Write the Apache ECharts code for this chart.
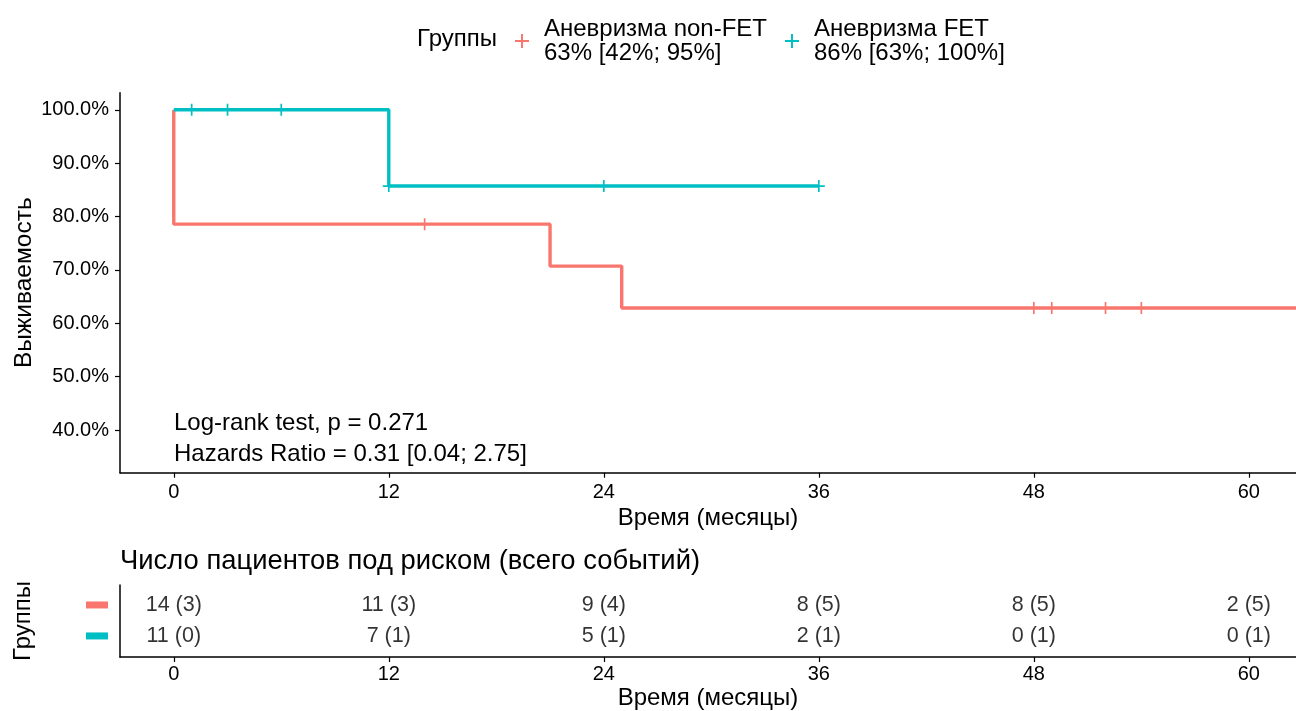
<!DOCTYPE html>
<html>
<head>
<meta charset="utf-8">
<script src="https://cdn.jsdelivr.net/npm/echarts@6/dist/echarts.min.js"></script>
<style>
html,body{margin:0;padding:0;background:#fff;}
#chart{width:1296px;height:711px;}
</style>
</head>
<body>
<div id="chart"></div>
<script>
// ---- data ----
const groupNames = ['Аневризма non-FET', 'Аневризма FET'];
const groupCI = ['63% [42%; 95%]', '86% [63%; 100%]'];
const colors = ['#F8766D', '#00BFC4'];

// Kaplan-Meier step points (time in months, survival %)
const nonFetTime = [0, 0, 21, 25, 64];
const nonFetSurv = [100, 78.57, 70.71, 62.86, 62.86];
const fetTime = [0, 12, 36];
const fetSurv = [100, 85.71, 85.71];

// censor marks
const nonFetCensorTime = [14, 48, 49, 52, 54];
const nonFetCensorSurv = [78.57, 62.86, 62.86, 62.86, 62.86];
const fetCensorTime = [1, 3, 6, 12, 24, 36];
const fetCensorSurv = [100, 100, 100, 85.71, 85.71, 85.71];

// axis ticks
const timeTicks = [0, 12, 24, 36, 48, 60];
const survTicks = [40, 50, 60, 70, 80, 90, 100];

// risk table
const riskTimes = [0, 12, 24, 36, 48, 60];
const nonFetAtRisk = [14, 11, 9, 8, 8, 2];
const nonFetEvents = [3, 3, 4, 5, 5, 5];
const fetAtRisk = [11, 7, 5, 2, 0, 0];
const fetEvents = [0, 1, 1, 1, 1, 1];

const annotations = ['Log-rank test, p = 0.271', 'Hazards Ratio = 0.31 [0.04; 2.75]'];

// ---- chart ----
const FONT = '"Liberation Sans", Arial, sans-serif';
const zip = (a, b) => a.map((v, i) => [v, b[i]]);
const plusPath = 'path://M43,0H57V43H100V57H57V100H43V57H0V43H43Z';

const riskData = [];
riskTimes.forEach((t, i) => {
  riskData.push([t, 1, String(nonFetAtRisk[i]) + ' (' + String(nonFetEvents[i]) + ')']);
  riskData.push([t, 0, String(fetAtRisk[i]) + ' (' + String(fetEvents[i]) + ')']);
});

const xRange = {min: -3, max: 62.63};
const axisLineStyle = {color: '#000', width: 1.5};

const chart = echarts.init(document.getElementById('chart'), null, {renderer: 'canvas'});
chart.setOption({
  backgroundColor: '#fff',
  animation: false,
  textStyle: {fontFamily: FONT},
  legend: groupNames.map((n, i) => ({
    data: [{name: n, icon: plusPath, itemStyle: {color: colors[i]}}],
    left: i === 0 ? 515 : 785,
    top: 17,
    padding: 0,
    itemWidth: 14,
    itemHeight: 14,
    selectedMode: false,
    formatter: name => name + '\n' + groupCI[i],
    textStyle: {fontFamily: FONT, fontSize: 24, lineHeight: 24, color: '#000', padding: [0, 0, 0, 10]}
  })),
  grid: [
    {left: 120, top: 92.7, width: 1176, height: 380, containLabel: false, outerBoundsMode: 'none'},
    {left: 120, top: 585, width: 1176, height: 72, containLabel: false, outerBoundsMode: 'none'}
  ],
  xAxis: [
    {
      gridIndex: 0, type: 'value', min: xRange.min, max: xRange.max,
      name: 'Время (месяцы)', nameLocation: 'middle', nameGap: 34, nameMoveOverlap: false,
      nameTextStyle: {fontFamily: FONT, fontSize: 24, color: '#000'},
      axisLine: {show: true, onZero: false, lineStyle: axisLineStyle},
      axisTick: {show: true, length: 5, customValues: timeTicks, lineStyle: {color: '#000', width: 1.2}},
      axisLabel: {customValues: timeTicks, margin: 10, fontSize: 20, color: '#000', fontFamily: FONT},
      splitLine: {show: false}
    },
    {
      gridIndex: 1, type: 'value', min: xRange.min, max: xRange.max,
      name: 'Время (месяцы)', nameLocation: 'middle', nameGap: 29, nameMoveOverlap: false,
      nameTextStyle: {fontFamily: FONT, fontSize: 24, color: '#000'},
      axisLine: {show: true, onZero: false, lineStyle: axisLineStyle},
      axisTick: {show: true, length: 5, customValues: timeTicks, lineStyle: {color: '#000', width: 1.2}},
      axisLabel: {customValues: timeTicks, margin: 7, fontSize: 20, color: '#000', fontFamily: FONT},
      splitLine: {show: false}
    }
  ],
  yAxis: [
    {
      gridIndex: 0, type: 'value', min: 32, max: 103.2,
      name: 'Выживаемость', nameLocation: 'middle', nameGap: 83, nameRotate: 90, nameMoveOverlap: false,
      nameTextStyle: {fontFamily: FONT, fontSize: 24.5, color: '#000'},
      axisLine: {show: true, onZero: false, lineStyle: axisLineStyle},
      axisTick: {show: true, length: 5, customValues: survTicks, lineStyle: {color: '#000', width: 1.2}},
      axisLabel: {customValues: survTicks, margin: 11, fontSize: 20, color: '#000', fontFamily: FONT,
        formatter: v => v.toFixed(1) + '%'},
      splitLine: {show: false}
    },
    {
      gridIndex: 1, type: 'value', min: -0.68, max: 1.645,
      name: 'Группы', nameLocation: 'middle', nameGap: 85, nameRotate: 90, nameMoveOverlap: false,
      nameTextStyle: {fontFamily: FONT, fontSize: 24, color: '#000'},
      axisLine: {show: true, onZero: false, lineStyle: axisLineStyle},
      axisTick: {show: false},
      axisLabel: {customValues: [0, 1], margin: 12,
        formatter: v => v === 1 ? '{r|}' : '{t|}',
        rich: {
          r: {backgroundColor: colors[0], width: 22, height: 7},
          t: {backgroundColor: colors[1], width: 22, height: 7}
        }},
      splitLine: {show: false}
    }
  ],
  graphic: [
    {type: 'text', left: 417, top: 27, style: {text: 'Группы', font: '24px ' + FONT, fill: '#000'}},
    {type: 'text', left: 174, top: 411, style: {text: annotations[0], font: '24px ' + FONT, fill: '#000'}},
    {type: 'text', left: 174, top: 442, style: {text: annotations[1], font: '24px ' + FONT, fill: '#000'}},
    {type: 'text', left: 120, top: 548, style: {text: 'Число пациентов под риском (всего событий)', font: '27.4px ' + FONT, fill: '#000'}}
  ],
  series: [
    {
      name: groupNames[0], type: 'line', xAxisIndex: 0, yAxisIndex: 0, step: 'end',
      data: zip(nonFetTime, nonFetSurv), showSymbol: false, symbol: 'none',
      lineStyle: {color: colors[0], width: 3.4}, itemStyle: {color: colors[0]}, z: 2
    },
    {
      name: groupNames[1], type: 'line', xAxisIndex: 0, yAxisIndex: 0, step: 'end',
      data: zip(fetTime, fetSurv), showSymbol: false, symbol: 'none',
      lineStyle: {color: colors[1], width: 3.4}, itemStyle: {color: colors[1]}, z: 3
    },
    {
      name: groupNames[0] + ' censor', type: 'scatter', xAxisIndex: 0, yAxisIndex: 0,
      data: zip(nonFetCensorTime, nonFetCensorSurv), symbol: plusPath, symbolSize: 12,
      itemStyle: {color: colors[0], opacity: 1}, z: 4
    },
    {
      name: groupNames[1] + ' censor', type: 'scatter', xAxisIndex: 0, yAxisIndex: 0,
      data: zip(fetCensorTime, fetCensorSurv), symbol: plusPath, symbolSize: 12,
      itemStyle: {color: colors[1], opacity: 1}, z: 4
    },
    {
      name: 'risk', type: 'scatter', xAxisIndex: 1, yAxisIndex: 1,
      data: riskData, symbolSize: 1, itemStyle: {color: 'transparent'},
      label: {show: true, position: 'inside', formatter: p => p.data[2],
        fontSize: 21.5, color: '#000', fontFamily: FONT}
    }
  ]
});
</script>
</body>
</html>
